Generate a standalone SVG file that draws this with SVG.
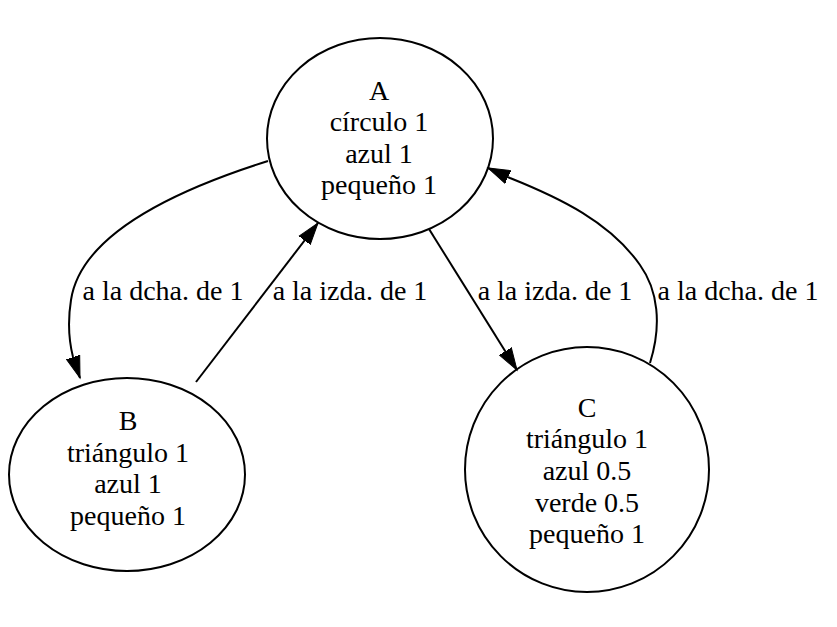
<svg xmlns="http://www.w3.org/2000/svg" width="837" height="627" viewBox="0 0 837 627">
<defs>
<style>
.node ellipse{fill:none;stroke:#000;stroke-width:2}
.edge{fill:none;stroke:#000;stroke-width:2}
text{font-family:"Liberation Serif","Times New Roman",serif;font-size:28px;fill:#000;text-anchor:middle}
</style>
<marker id="arrow" markerUnits="userSpaceOnUse" markerWidth="24" markerHeight="18" viewBox="0 0 24 18" refX="22" refY="9" orient="auto">
<path d="M0,2 L22,9 L0,16 z" fill="#000" stroke="#000" stroke-width="1"/>
</marker>
</defs>
<rect width="837" height="627" fill="#fff"/>
<g id="connectors">
<g id="edge-A-B">
<path class="edge" d="M268,161 C160,195 80,240 71,300 C67,325 70,345 73,357 L80,378" marker-end="url(#arrow)"/>
<text x="163" y="300">a la dcha. de 1</text>
</g>
<g id="edge-B-A">
<path class="edge" d="M196,382 L318,223" marker-end="url(#arrow)"/>
<text x="350" y="300">a la izda. de 1</text>
</g>
<g id="edge-A-C">
<path class="edge" d="M429,229 L517,370" marker-end="url(#arrow)"/>
<text x="555" y="300">a la izda. de 1</text>
</g>
<g id="edge-C-A">
<path class="edge" d="M650,363 C662,325 658,290 640,265 C610,222 560,198 510,178 L488,168" marker-end="url(#arrow)"/>
<text x="738" y="300">a la dcha. de 1</text>
</g>
</g>
<g id="node-A" class="node">
<ellipse cx="380" cy="138.5" rx="113" ry="100.5"/>
<text x="379" y="100">A</text>
<text x="379" y="131">círculo 1</text>
<text x="379" y="163">azul 1</text>
<text x="379" y="194">pequeño 1</text>
</g>
<g id="node-B" class="node">
<ellipse cx="127" cy="474.5" rx="118" ry="96.5"/>
<text x="128" y="430">B</text>
<text x="128" y="462">triángulo 1</text>
<text x="128" y="493">azul 1</text>
<text x="128" y="525">pequeño 1</text>
</g>
<g id="node-C" class="node">
<ellipse cx="587" cy="469.5" rx="122" ry="122.5"/>
<text x="587" y="417">C</text>
<text x="587" y="448">triángulo 1</text>
<text x="587" y="480">azul 0.5</text>
<text x="587" y="512">verde 0.5</text>
<text x="587" y="543">pequeño 1</text>
</g>
</svg>
